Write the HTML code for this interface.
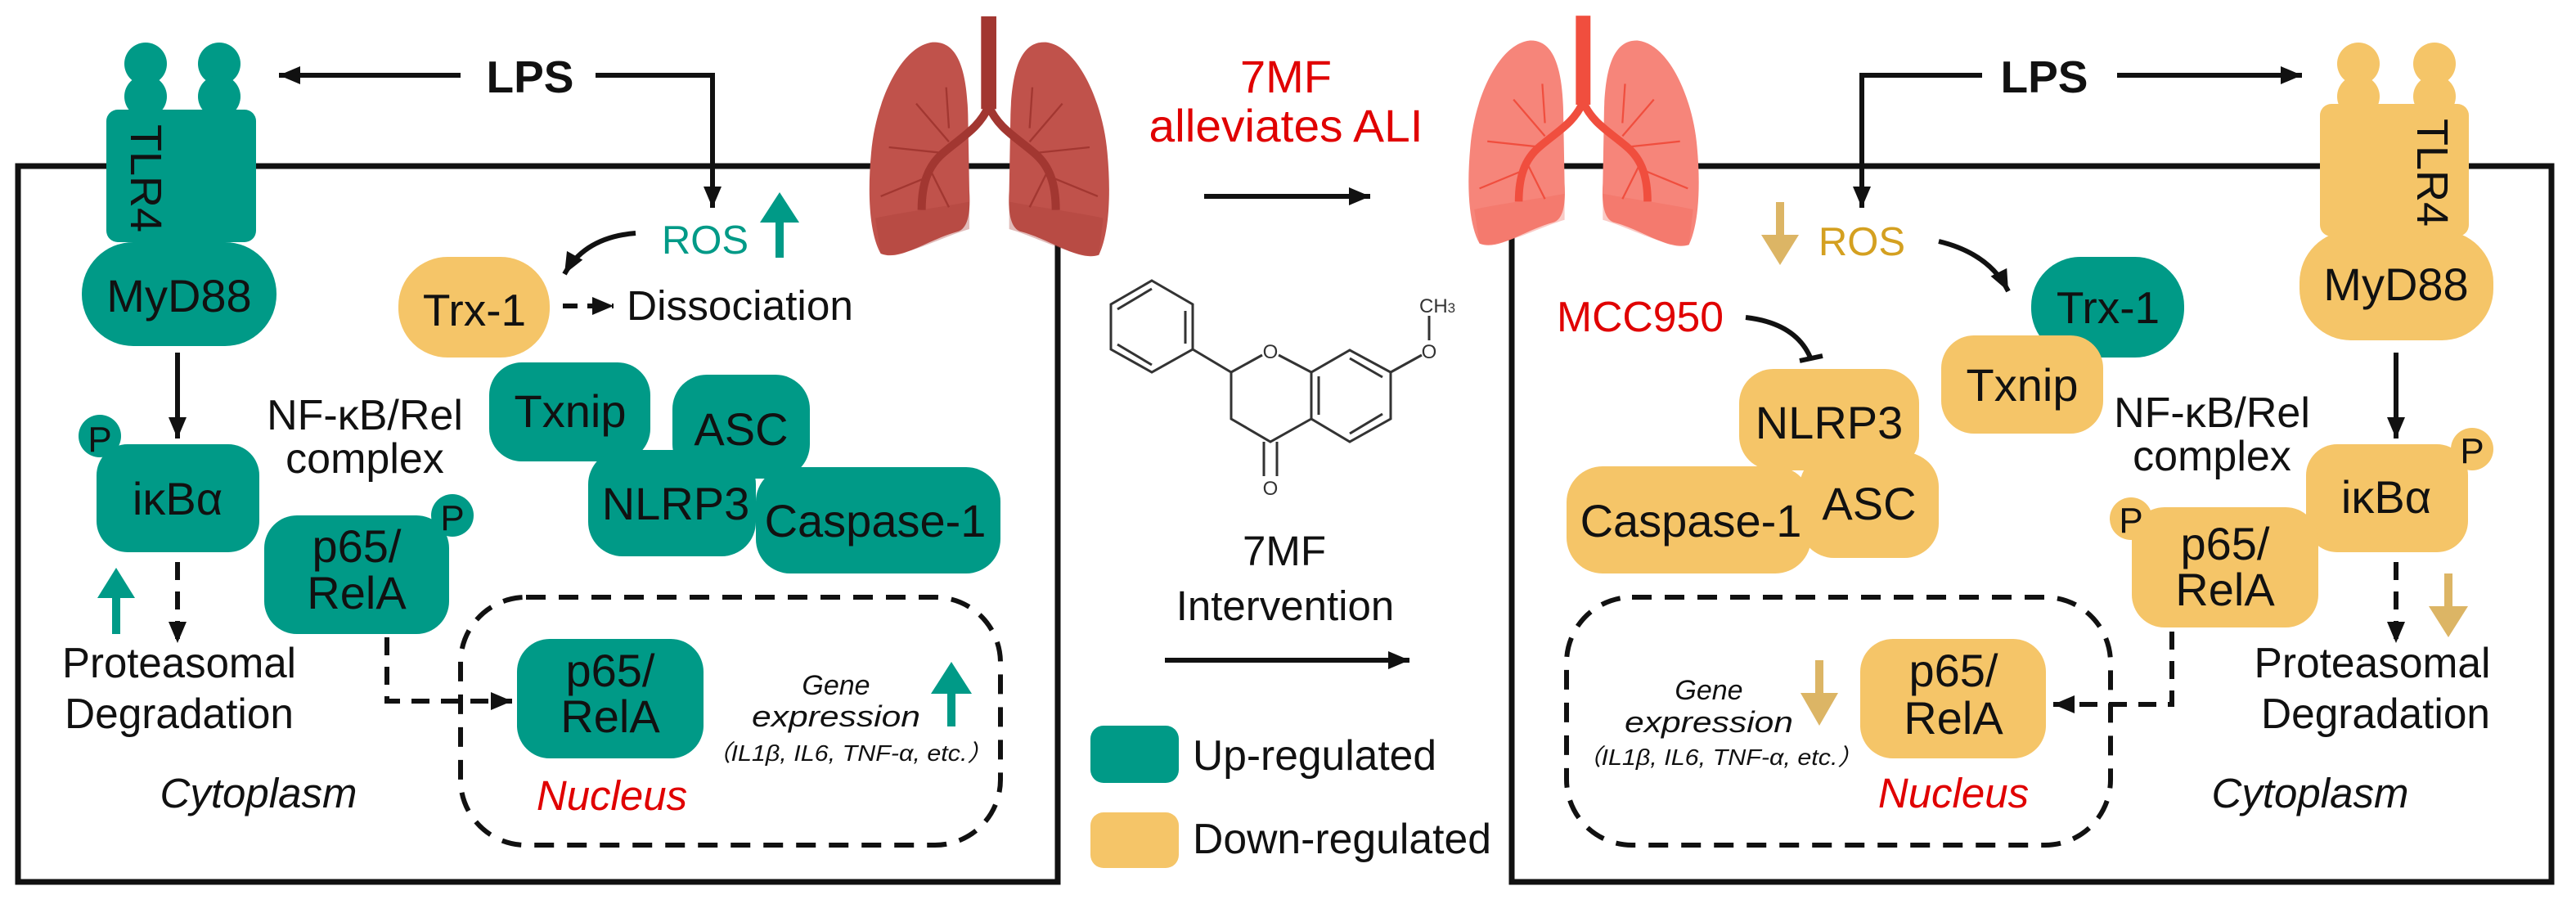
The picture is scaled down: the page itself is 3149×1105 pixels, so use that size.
<!DOCTYPE html>
<html><head><meta charset="utf-8"><style>
html,body{margin:0;padding:0;background:#fff;}
svg{display:block;}
text{font-family:"Liberation Sans",Arial,sans-serif;fill:#111;}
.it{font-style:italic;}
</style></head><body>
<svg width="3149" height="1105" viewBox="0 0 3149 1105" xmlns="http://www.w3.org/2000/svg">
<defs>
<marker id="ah" markerUnits="userSpaceOnUse" markerWidth="30" markerHeight="30" viewBox="0 0 30 30" refX="28" refY="15" orient="auto">
<path d="M2,4 L28,15 L2,26 Z" fill="#111"/></marker>
<g id="lungL">
<path d="M270,155 C150,170 60,380 45,560 C30,720 40,860 80,930 C150,960 250,880 360,850 C400,840 410,780 405,700 L400,420 C395,250 360,150 270,155 Z"/>
<path d="M686,155 C806,170 896,380 911,560 C926,720 916,860 880,935 C806,960 706,880 596,850 C556,840 546,780 551,700 L556,420 C561,250 596,150 686,155 Z"/>
</g>
</defs>
<rect width="3149" height="1105" fill="#fff"/>

<rect x="22" y="203" width="1271" height="875" fill="none" stroke="#111" stroke-width="7"/>
<rect x="1848" y="203" width="1271" height="875" fill="none" stroke="#111" stroke-width="7"/>

<g transform="translate(1050,0) scale(0.3333)">
<use href="#lungL" fill="#c0524b"/>
<path d="M60,800 C150,780 300,760 405,740 L405,840 C300,870 160,950 80,930 Z" fill="#a83e38" opacity="0.35"/>
<path d="M896,800 C806,780 656,760 551,740 L551,840 C656,870 796,950 880,935 Z" fill="#a83e38" opacity="0.35"/>
<rect x="448" y="60" width="56" height="340" fill="#a23731"/>
<path d="M476,390 C440,470 380,500 310,560 C250,610 230,680 230,770" fill="none" stroke="#a23731" stroke-width="30"/>
<path d="M476,390 C512,470 572,500 642,560 C702,610 722,680 722,770" fill="none" stroke="#a23731" stroke-width="30"/>
<g fill="none" stroke="#a23731" stroke-width="7">
<path d="M330,520 L210,380 M300,560 L110,540 M250,650 L80,720 M260,620 L330,760 M330,470 L320,320"/>
<path d="M626,520 L746,380 M656,560 L846,540 M706,650 L876,720 M696,620 L626,760 M626,470 L636,320"/>
</g>
</g>

<g transform="translate(1783,0) scale(0.32)">
<use href="#lungL" fill="#f6857a"/>
<path d="M60,800 C150,780 300,760 405,740 L405,840 C300,870 160,950 80,930 Z" fill="#f0675a" opacity="0.35"/>
<path d="M896,800 C806,780 656,760 551,740 L551,840 C656,870 796,950 880,935 Z" fill="#f0675a" opacity="0.35"/>
<rect x="448" y="60" width="56" height="340" fill="#f04e3e"/>
<path d="M476,390 C440,470 380,500 310,560 C250,610 230,680 230,770" fill="none" stroke="#f04e3e" stroke-width="30"/>
<path d="M476,390 C512,470 572,500 642,560 C702,610 722,680 722,770" fill="none" stroke="#f04e3e" stroke-width="30"/>
<g fill="none" stroke="#f04e3e" stroke-width="7">
<path d="M330,520 L210,380 M300,560 L110,540 M250,650 L80,720 M260,620 L330,760 M330,470 L320,320"/>
<path d="M626,520 L746,380 M656,560 L846,540 M706,650 L876,720 M696,620 L626,760 M626,470 L636,320"/>
</g>
</g>

<g fill="#009a87">
<circle cx="178" cy="78" r="26"/><circle cx="178" cy="118" r="26"/>
<circle cx="268" cy="78" r="26"/><circle cx="268" cy="118" r="26"/>
<rect x="130" y="134" width="183" height="162" rx="14"/>
<rect x="100" y="296" width="238" height="127" rx="63"/>
<circle cx="122" cy="533" r="26"/>
<rect x="118" y="543" width="199" height="132" rx="38"/>
<rect x="323" y="630" width="226" height="145" rx="40"/>
<circle cx="553" cy="630" r="26"/>
<rect x="598" y="443" width="197" height="121" rx="40"/>
<rect x="822" y="458" width="168" height="127" rx="42"/>
<rect x="719" y="550" width="205" height="130" rx="42"/>
<rect x="924" y="571" width="299" height="130" rx="42"/>
<rect x="632" y="781" width="228" height="146" rx="40"/>
</g>
<rect x="487" y="314" width="185" height="123" rx="60" fill="#f5c568"/>

<text x="0" y="0" font-size="54" transform="translate(160,218) rotate(90)" text-anchor="middle">TLR4</text>
<text x="219" y="381" font-size="56" text-anchor="middle">MyD88</text>
<text x="122" y="552" font-size="44" text-anchor="middle">P</text>
<text x="217" y="629" font-size="56" text-anchor="middle">iκBα</text>
<text x="553" y="648" font-size="44" text-anchor="middle">P</text>
<text x="436" y="687" font-size="56" text-anchor="middle">p65/</text>
<text x="436" y="744" font-size="56" text-anchor="middle">RelA</text>
<text x="580" y="398" font-size="55" text-anchor="middle">Trx-1</text>
<text x="697" y="522" font-size="56" text-anchor="middle">Txnip</text>
<text x="906" y="544" font-size="56" text-anchor="middle">ASC</text>
<text x="826" y="635" font-size="56" text-anchor="middle">NLRP3</text>
<text x="1070" y="656" font-size="56" text-anchor="middle">Caspase-1</text>
<text x="746" y="839" font-size="56" text-anchor="middle">p65/</text>
<text x="746" y="895" font-size="56" text-anchor="middle">RelA</text>

<text x="648" y="113" font-size="55" font-weight="bold" text-anchor="middle">LPS</text>
<text x="862" y="310" font-size="49" text-anchor="middle" style="fill:#009a87">ROS</text>
<text x="766" y="391" font-size="51" textLength="277" lengthAdjust="spacingAndGlyphs">Dissociation</text>
<text x="446" y="525" font-size="52" text-anchor="middle">NF-κB/Rel</text>
<text x="446" y="578" font-size="52" text-anchor="middle">complex</text>
<text x="219" y="828" font-size="52" text-anchor="middle" textLength="286" lengthAdjust="spacingAndGlyphs">Proteasomal</text>
<text x="219" y="890" font-size="52" text-anchor="middle" textLength="280" lengthAdjust="spacingAndGlyphs">Degradation</text>
<text x="316" y="987" font-size="51" class="it" text-anchor="middle">Cytoplasm</text>
<text x="748" y="990" font-size="51" class="it" text-anchor="middle" style="fill:#e00000">Nucleus</text>
<text x="1022" y="849" font-size="34" class="it" text-anchor="middle">Gene</text>
<text x="1022" y="888" font-size="36" class="it" text-anchor="middle" textLength="206" lengthAdjust="spacingAndGlyphs">expression</text>
<text x="1038" y="930" font-size="28" class="it" text-anchor="middle" textLength="350" lengthAdjust="spacingAndGlyphs">（IL1β, IL6, TNF-α, etc.）</text>

<g fill="none" stroke="#111" stroke-width="6">
<path d="M563,92 L341,92" marker-end="url(#ah)"/>
<path d="M728,92 L871,92 L871,254" marker-end="url(#ah)"/>
<path d="M777,285 Q715,290 690,335" marker-end="url(#ah)"/>
<path d="M688,374 L750,374" stroke-dasharray="18 12" marker-end="url(#ah)"/>
<path d="M217,431 L217,536" marker-end="url(#ah)"/>
<path d="M217,687 L217,786" stroke-dasharray="22 14" marker-end="url(#ah)"/>
<path d="M473,779 L473,857 L626,857" stroke-dasharray="22 14" marker-end="url(#ah)"/>
<rect x="563" y="730" width="660" height="303" rx="80" stroke-dasharray="24 16"/>
</g>
<g fill="#009a87">
<path d="M953,235 L977,272 L958,272 L958,315 L948,315 L948,272 L929,272 Z"/>
<path d="M142,694 L165,731 L147,731 L147,775 L137,775 L137,731 L119,731 Z"/>
<path d="M1163,809 L1188,848 L1168,848 L1168,888 L1158,888 L1158,848 L1138,848 Z"/>
</g>

<text x="1572" y="113" font-size="56" text-anchor="middle" style="fill:#e00000">7MF</text>
<text x="1572" y="173" font-size="56" text-anchor="middle" style="fill:#e00000" textLength="335" lengthAdjust="spacingAndGlyphs">alleviates ALI</text>
<path d="M1472,240 L1675,240" stroke="#111" stroke-width="6" marker-end="url(#ah)"/>
<g fill="none" stroke="#333" stroke-width="3">
<path d="M1408,343 L1458,372 L1458,427 L1408,455 L1358,427 L1358,372 Z"/>
<path d="M1366,378 L1408,353 M1449,380 L1449,420 M1366,421 L1408,446"/>
<path d="M1458,427 L1505,455 L1543,434 M1563,434 L1603,455 L1650,428 L1700,455 L1700,512 L1650,540 L1603,512 L1603,455"/>
<path d="M1612,460 L1612,507 M1650,438 L1690,461 M1690,506 L1650,530"/>
<path d="M1505,455 L1505,512 L1553,540 L1603,512 M1545,540 L1545,582 M1561,540 L1561,582"/>
<path d="M1700,455 L1738,434 M1747,416 L1747,386"/>
</g>
<text x="1553" y="438" font-size="24" text-anchor="middle" style="fill:#333">O</text>
<text x="1553" y="605" font-size="24" text-anchor="middle" style="fill:#333">O</text>
<text x="1747" y="438" font-size="24" text-anchor="middle" style="fill:#333">O</text>
<text x="1735" y="382" font-size="24" style="fill:#333">CH<tspan font-size="17">3</tspan></text>
<text x="1570" y="691" font-size="51" text-anchor="middle">7MF</text>
<text x="1571" y="758" font-size="51" text-anchor="middle">Intervention</text>
<path d="M1424,807 L1723,807" stroke="#111" stroke-width="6" marker-end="url(#ah)"/>
<rect x="1333" y="887" width="108" height="70" rx="16" fill="#009a87"/>
<rect x="1333" y="993" width="108" height="68" rx="16" fill="#f5c568"/>
<text x="1458" y="941" font-size="52" textLength="298" lengthAdjust="spacingAndGlyphs">Up-regulated</text>
<text x="1458" y="1043" font-size="52" textLength="365" lengthAdjust="spacingAndGlyphs">Down-regulated</text>

<g fill="#f5c568">
<circle cx="2883" cy="78" r="26"/><circle cx="2883" cy="118" r="26"/>
<circle cx="2976" cy="78" r="26"/><circle cx="2976" cy="118" r="26"/>
<rect x="2836" y="127" width="182" height="162" rx="14"/>
<rect x="2811" y="282" width="237" height="134" rx="63"/>
<circle cx="3022" cy="549" r="26"/>
<rect x="2819" y="543" width="198" height="132" rx="38"/>
<rect x="2606" y="620" width="228" height="147" rx="40"/>
<circle cx="2605" cy="634" r="26"/>
<rect x="2200" y="553" width="170" height="129" rx="42"/>
<rect x="2126" y="451" width="220" height="124" rx="42"/>
<rect x="1915" y="570" width="299" height="131" rx="44"/>
<rect x="2274" y="781" width="227" height="146" rx="40"/>
</g>
<rect x="2483" y="314" width="187" height="123" rx="60" fill="#009a87"/>
<rect x="2373" y="410" width="198" height="120" rx="40" fill="#f5c568"/>

<text x="0" y="0" font-size="54" transform="translate(2955,211) rotate(90)" text-anchor="middle">TLR4</text>
<text x="2929" y="367" font-size="56" text-anchor="middle">MyD88</text>
<text x="3022" y="566" font-size="44" text-anchor="middle">P</text>
<text x="2917" y="627" font-size="56" text-anchor="middle">iκBα</text>
<text x="2605" y="651" font-size="44" text-anchor="middle">P</text>
<text x="2720" y="684" font-size="56" text-anchor="middle">p65/</text>
<text x="2720" y="740" font-size="56" text-anchor="middle">RelA</text>
<text x="2577" y="395" font-size="55" text-anchor="middle">Trx-1</text>
<text x="2472" y="490" font-size="56" text-anchor="middle">Txnip</text>
<text x="2236" y="536" font-size="56" text-anchor="middle">NLRP3</text>
<text x="2285" y="635" font-size="56" text-anchor="middle">ASC</text>
<text x="2067" y="656" font-size="56" text-anchor="middle">Caspase-1</text>
<text x="2388" y="839" font-size="56" text-anchor="middle">p65/</text>
<text x="2388" y="897" font-size="56" text-anchor="middle">RelA</text>

<text x="2499" y="113" font-size="55" font-weight="bold" text-anchor="middle">LPS</text>
<text x="2276" y="312" font-size="49" text-anchor="middle" style="fill:#d4a020">ROS</text>
<text x="2005" y="405" font-size="52" text-anchor="middle" style="fill:#e00000" textLength="204" lengthAdjust="spacingAndGlyphs">MCC950</text>
<text x="2704" y="522" font-size="52" text-anchor="middle">NF-κB/Rel</text>
<text x="2704" y="575" font-size="52" text-anchor="middle">complex</text>
<text x="2900" y="828" font-size="52" text-anchor="middle" textLength="289" lengthAdjust="spacingAndGlyphs">Proteasomal</text>
<text x="2904" y="890" font-size="52" text-anchor="middle" textLength="280" lengthAdjust="spacingAndGlyphs">Degradation</text>
<text x="2824" y="987" font-size="51" class="it" text-anchor="middle">Cytoplasm</text>
<text x="2388" y="987" font-size="51" class="it" text-anchor="middle" style="fill:#e00000">Nucleus</text>
<text x="2089" y="855" font-size="34" class="it" text-anchor="middle">Gene</text>
<text x="2089" y="895" font-size="36" class="it" text-anchor="middle" textLength="206" lengthAdjust="spacingAndGlyphs">expression</text>
<text x="2102" y="935" font-size="28" class="it" text-anchor="middle" textLength="350" lengthAdjust="spacingAndGlyphs">（IL1β, IL6, TNF-α, etc.）</text>

<g fill="none" stroke="#111" stroke-width="6">
<path d="M2588,92 L2814,92" marker-end="url(#ah)"/>
<path d="M2423,92 L2276,92 L2276,254" marker-end="url(#ah)"/>
<path d="M2370,295 Q2432,310 2455,356" marker-end="url(#ah)"/>
<path d="M2134,388 Q2195,395 2213,437"/>
<path d="M2200,441 L2228,435"/>
<path d="M2929,431 L2929,536" marker-end="url(#ah)"/>
<path d="M2929,687 L2929,786" stroke-dasharray="22 14" marker-end="url(#ah)"/>
<path d="M2655,772 L2655,861 L2510,861" stroke-dasharray="22 14" marker-end="url(#ah)"/>
<rect x="1915" y="730" width="665" height="303" rx="80" stroke-dasharray="24 16"/>
</g>
<g fill="#dcb565">
<path d="M2176,324 L2199,287 L2181,287 L2181,247 L2171,247 L2171,287 L2153,287 Z"/>
<path d="M2224,887 L2247,847 L2229,847 L2229,807 L2219,807 L2219,847 L2201,847 Z"/>
<path d="M2993,779 L3017,741 L2998,741 L2998,701 L2988,701 L2988,741 L2969,741 Z"/>
</g>
</svg>
</body></html>
